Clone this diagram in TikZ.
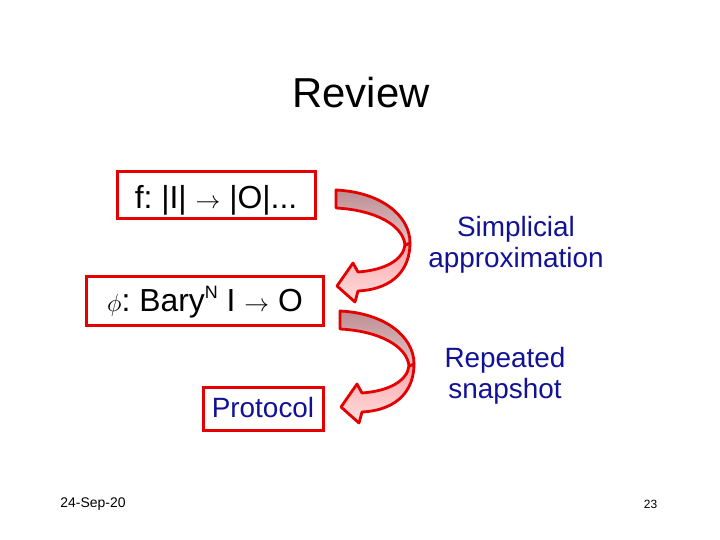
\documentclass[tikz,border=0pt]{standalone}
\usepackage{fontspec}
\setmainfont{Liberation Sans}
\usepackage{amsmath}
\frenchspacing

\definecolor{boxred}{RGB}{228,0,0}
\definecolor{txtblue}{RGB}{18,18,150}
\definecolor{backshade}{RGB}{188,142,148}
\definecolor{backlight}{RGB}{228,196,198}
\definecolor{frontshade}{RGB}{250,165,168}
\definecolor{frontlight}{RGB}{255,222,222}

\tikzset{
  slidebox/.style={draw=boxred,line width=3bp,inner sep=0pt,text depth=0bp,
    font=\fontsize{32}{36}\selectfont},
  bluetext/.style={text=txtblue,align=center,font=\fontsize{28}{31}\selectfont},
  footer/.style={anchor=base,font=\fontsize{14}{16}\selectfont},
  ribbon/.pic={
    \draw[boxred,line width=2.8bp,line join=round,
      top color=frontshade,bottom color=frontlight]
      (358,272) .. controls (385,270) and (403,260) .. (405,245)
      -- (410,243) .. controls (410,268) and (395,289) .. (358,291)
      -- (355,302) -- (337,286) -- (353,263) -- cycle;
    \draw[boxred,line width=2.8bp,line join=round,
      top color=backshade,bottom color=backlight]
      (336,190) .. controls (380,192) and (410,215) .. (410,243)
      -- (405,245) .. controls (403,225) and (375,210) .. (336,208) -- cycle;
  }
}

\begin{document}
\begin{tikzpicture}[x=1bp,y=-1bp]
\fill[white] (0,0) rectangle (720,540);
\useasboundingbox (0,0) rectangle (720,540);

\node[anchor=base,font=\fontsize{42}{46}\selectfont] (title) at (361,108) {Review};

% the three levels
\node[slidebox,text height=28bp,minimum width=198bp,minimum height=47bp] (fmap) at (216,195)
  {f: |I| $\rightarrow$ |O|...};
\node[slidebox,text height=21.4bp,minimum width=236bp,minimum height=48bp] (phimap) at (205,301)
  {$\phi$: Bary\raisebox{0.42em}{\fontsize{18}{18}\selectfont N} I $\rightarrow$ O};
\node[slidebox,text=txtblue,text height=17bp,font=\fontsize{28}{32}\selectfont,
  minimum width=120bp,minimum height=43bp] (proto) at (263,408.5) {Protocol};

% curved arrows
\pic at (0,0) {ribbon};
\pic at (4,121) {ribbon};

\node[bluetext] (simpl) at (516,245) {Simplicial\\approximation};
\node[bluetext] (snap) at (505,376) {Repeated\\snapshot};

\node[footer] (date) at (93,507) {24-Sep-20};
\node[footer,font=\fontsize{12}{14}\selectfont] (pageno) at (650.5,508) {23};
\end{tikzpicture}
\end{document}
